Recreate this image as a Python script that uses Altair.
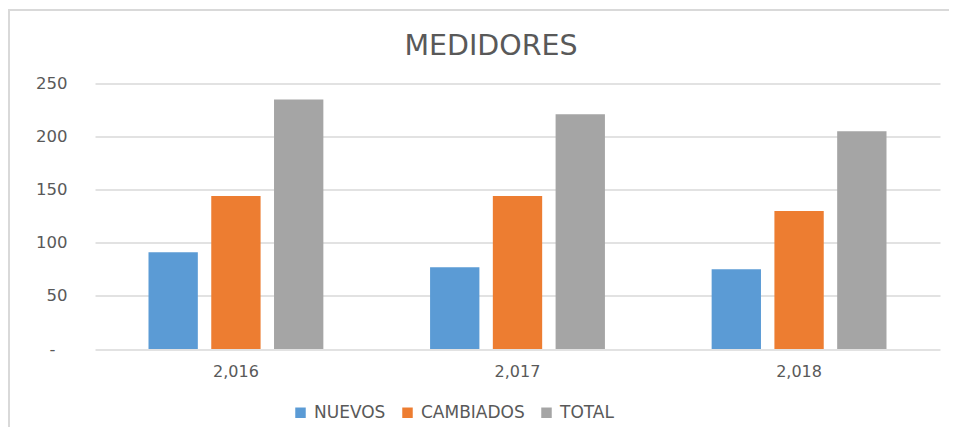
import altair as alt
import pandas as pd

years = ["2,016", "2,017", "2,018"]
series = ["NUEVOS", "CAMBIADOS", "TOTAL"]
nuevos = [91, 77, 75]
cambiados = [144, 144, 130]
total = [235, 221, 205]
colors = ["#5B9BD5", "#ED7D31", "#A5A5A5"]
y_ticks = [0, 50, 100, 150, 200, 250]
title_text = ["MEDIDORES"]

rows = []
for i, yr in enumerate(years):
    for s, vals in zip(series, [nuevos, cambiados, total]):
        rows.append({"year": yr, "serie": s, "valor": vals[i]})
df = pd.DataFrame(rows)
df_title = pd.DataFrame({"t": title_text})

FONT = "DejaVu Sans"
TXT = "#595959"

bars = alt.Chart(df).mark_bar().encode(
    x=alt.X("year:N", sort=years,
            scale=alt.Scale(paddingInner=0.379, paddingOuter=0.19),
            axis=alt.Axis(title=None, labelAngle=0, ticks=False, tickSize=0, domain=False,
                          labelPadding=14, labelFontSize=16, labelColor=TXT, labelFont=FONT)),
    xOffset=alt.XOffset("serie:N", sort=series,
                        scale=alt.Scale(paddingInner=0.214, paddingOuter=0)),
    y=alt.Y("valor:Q", scale=alt.Scale(domain=[0, 250]),
            axis=alt.Axis(title=None, values=y_ticks, ticks=False, tickSize=0, domain=False,
                          labelPadding={"condition": {"test": "datum.value == 0", "value": 40},
                                        "value": 28},
                          labelFontSize=16.5, labelColor=TXT, labelFont=FONT,
                          gridColor="#D9D9D9", gridWidth=1.5,
                          labelExpr="datum.value == 0 ? '-' : datum.label")),
    color=alt.Color("serie:N", sort=series,
                    scale=alt.Scale(domain=series, range=colors),
                    legend=alt.Legend(title=None, orient="none", direction="horizontal",
                                      legendX=197, legendY=320.5, padding=0,
                                      symbolType="square", symbolSize=110,
                                      symbolStrokeWidth=0,
                                      labelFontSize=17, labelColor=TXT, labelFont=FONT,
                                      labelOffset=5, columnPadding=13)),
)

title = alt.Chart(df_title).mark_text(
    font=FONT, fontSize=28.5, color=TXT, align="center", baseline="alphabetic"
).encode(text="t:N", x=alt.value(396), y=alt.value(-29))

border_top = alt.Chart(df_title).mark_rule(color="#D9D9D9", strokeWidth=2).encode(
    x=alt.value(-87), x2=alt.value(862), y=alt.value(-73.5))
border_left = alt.Chart(df_title).mark_rule(color="#D9D9D9", strokeWidth=2).encode(
    x=alt.value(-86), y=alt.value(-73.5), y2=alt.value(345))

chart = alt.layer(border_top, border_left, title, bars).properties(
    width=845, height=265.5,
    autosize=alt.AutoSizeParams(type="none"),
    padding={"left": 87, "top": 75.5, "right": 9, "bottom": 78},
).configure_view(stroke=None)

chart.save("out.html", embed_options={"renderer": "svg", "actions": False})
